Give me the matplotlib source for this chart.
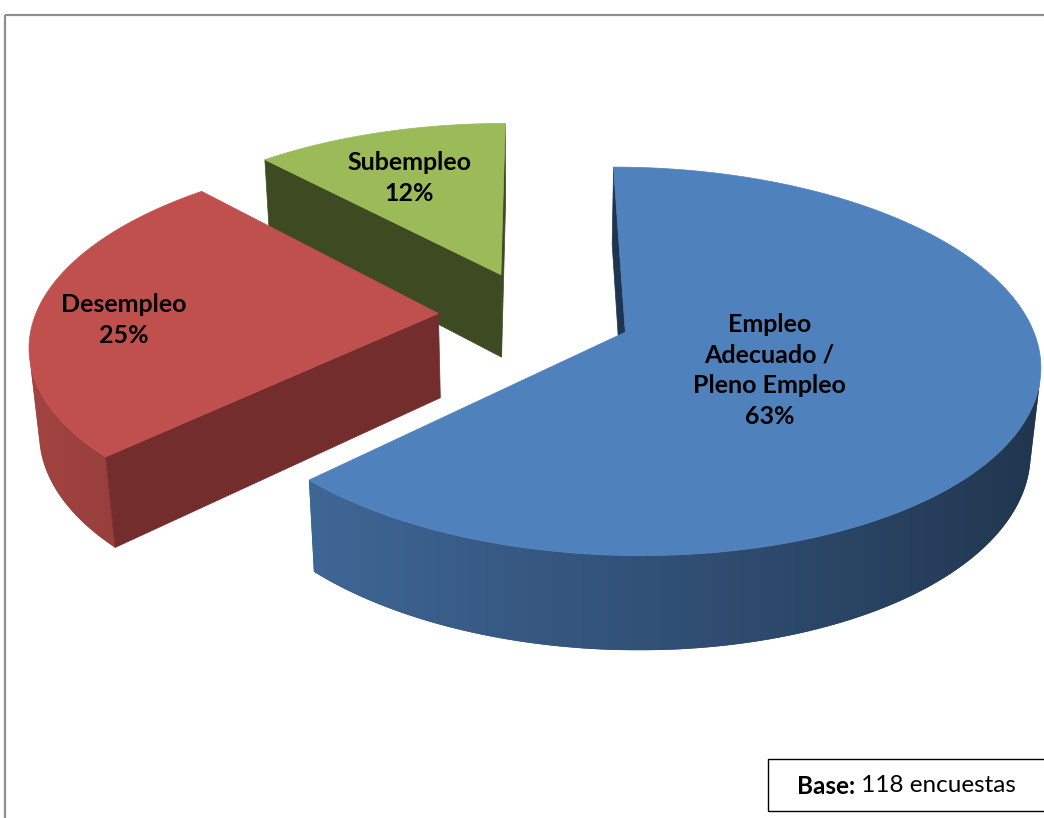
import numpy as np
import matplotlib
matplotlib.use("Agg")
import matplotlib.pyplot as plt
from matplotlib.patches import Polygon, Rectangle

# ---------------- data ----------------
categories = ["Empleo\nAdecuado /\nPleno Empleo", "Desempleo", "Subempleo"]
counts = [74, 30, 14]          # encuestas por categoría (63 %, 25 %, 12 %)
base_label = "Base:"
base_unit = "encuestas"

# ---------------- style ----------------
top_colors = ["#4F81BD", "#C0504D", "#9BBB59"]
face_colors = ["#1F3450", "#722D2C", "#3E4A22"]
label_r = [0.37, 0.785, 0.73]

W, H = 1044, 818
fig = plt.figure(figsize=(W / 100, H / 100), dpi=100)
ax = fig.add_axes([0, 0, 1, 1])
ax.set_xlim(0, W)
ax.set_ylim(H, 0)
ax.axis("off")

# view / projection parameters
elev = np.radians(29.3)
dist = 6.0
k = 395.0
cx, cy = 535.0, 399.0
thick = 0.24
explode = 0.24
cam = np.array([0.0, -dist * np.cos(elev), dist * np.sin(elev)])


def project(x, y, z):
    x = np.asarray(x, float); y = np.asarray(y, float); z = np.asarray(z, float)
    yc = y * np.sin(elev) + z * np.cos(elev)
    zc = y * np.cos(elev) - z * np.sin(elev)
    s = dist / (dist + zc)
    return cx + k * x * s, cy - k * yc * s, zc


def visible(normal, point):
    return np.dot(normal, cam - point) > 0


def wall_factor(t):
    return 0.63 - 0.23 * np.sin(t)


total = float(np.sum(counts))
frac = np.array(counts, float) / total
bounds = np.concatenate([[0], np.cumsum(frac)]) * 2 * np.pi

slices = []
for i in range(len(counts)):
    t0, t1 = bounds[i], bounds[i + 1]
    mid = 0.5 * (t0 + t1)
    ox, oy = explode * np.sin(mid), explode * np.cos(mid)
    _, _, zmid = project(ox, oy, thick)
    slices.append((float(zmid), i, t0, t1, mid, ox, oy))

# draw far slices first
for zmid, i, t0, t1, mid, ox, oy in sorted(slices, reverse=True):
    n = max(3, int(np.degrees(t1 - t0) * 2))
    th = np.linspace(t0, t1, n)
    # visible part of the outer wall (gradient-shaded)
    vis = np.array([visible(np.array([np.sin(t), np.cos(t), 0.0]),
                            np.array([ox + np.sin(t), oy + np.cos(t), thick / 2])) for t in th])
    if vis.sum() >= 2:
        tv = th[vis]
        ut, vt, _ = project(ox + np.sin(tv), oy + np.cos(tv), np.full(len(tv), thick))
        ub, vb, _ = project(ox + np.sin(tv), oy + np.cos(tv), np.zeros(len(tv)))
        poly = np.vstack([np.column_stack([ut, vt]), np.column_stack([ub, vb])[::-1]])
        base_rgb = np.array(matplotlib.colors.to_rgb(top_colors[i]))
        midcol = tuple(base_rgb * wall_factor(np.mean(tv)))
        wall = Polygon(poly, closed=True, facecolor=midcol, edgecolor="none")
        ax.add_patch(wall)
        x0, x1 = poly[:, 0].min(), poly[:, 0].max()
        y0, y1 = poly[:, 1].min(), poly[:, 1].max()
        cols = np.linspace(x0, x1, 400)
        order = np.argsort(ut)
        fac = np.interp(cols, ut[order], wall_factor(tv[order]))
        img = np.clip(fac[None, :, None] * base_rgb[None, None, :], 0, 1)
        im = ax.imshow(img, extent=[x0, x1, y1, y0], aspect="auto",
                       interpolation="bilinear", zorder=1)
        im.set_clip_path(wall)
    # radial (cut) faces
    for t, nrm2 in ((t0, np.array([-np.cos(t0), np.sin(t0), 0.0])),
                    (t1, np.array([np.cos(t1), -np.sin(t1), 0.0]))):
        p = np.array([ox + 0.5 * np.sin(t), oy + 0.5 * np.cos(t), thick / 2])
        if not visible(nrm2, p):
            continue
        xs = [ox, ox + np.sin(t), ox + np.sin(t), ox]
        ys = [oy, oy + np.cos(t), oy + np.cos(t), oy]
        zs = [thick, thick, 0, 0]
        u, v, _ = project(xs, ys, zs)
        ax.add_patch(Polygon(np.column_stack([u, v]), closed=True, zorder=1,
                             facecolor=face_colors[i], edgecolor=face_colors[i], lw=0.5))
    # top surface
    xs = np.concatenate([[ox], ox + np.sin(th)])
    ys = np.concatenate([[oy], oy + np.cos(th)])
    u, v, _ = project(xs, ys, np.full(len(xs), thick))
    ax.add_patch(Polygon(np.column_stack([u, v]), closed=True, zorder=1,
                         facecolor=top_colors[i], edgecolor=top_colors[i], lw=0.5))

# data labels
for zmid, i, t0, t1, mid, ox, oy in slices:
    r = label_r[i]
    u, v, _ = project(ox + r * np.sin(mid), oy + r * np.cos(mid), thick)
    pct = int(round(100 * counts[i] / total))
    ax.annotate(f"{categories[i]}\n{pct}%", xy=(float(u), float(v)),
                xytext=(0, -7.5), textcoords="offset points",
                ha="center", va="center", multialignment="center",
                fontsize=18, fontweight="bold", family=["Lato", "DejaVu Sans"],
                color="black", linespacing=1.42, zorder=5)

# chart frame
ax.add_patch(Rectangle((4.5, 14.5), W + 20, H + 20, fill=False,
                       edgecolor="#8F8F8F", lw=1.6, clip_on=True, zorder=6))

# base box
ax.add_patch(Rectangle((767.5, 758.5), 320, 52, facecolor="white",
                       edgecolor="black", lw=1.0, clip_on=True, zorder=6))
t1_ = ax.text(797, 786, base_label, ha="left", va="center", fontsize=17.5,
              fontweight="bold", family=["Lato", "DejaVu Sans"], zorder=7)
fig.canvas.draw()
bb = t1_.get_window_extent().transformed(ax.transData.inverted())
ax.text(max(bb.x0, bb.x1), 786, f" {int(total)} {base_unit}", ha="left", va="center",
        fontsize=17.5, family=["Lato", "DejaVu Sans"], zorder=7)

fig.savefig("out.png", dpi=100)
